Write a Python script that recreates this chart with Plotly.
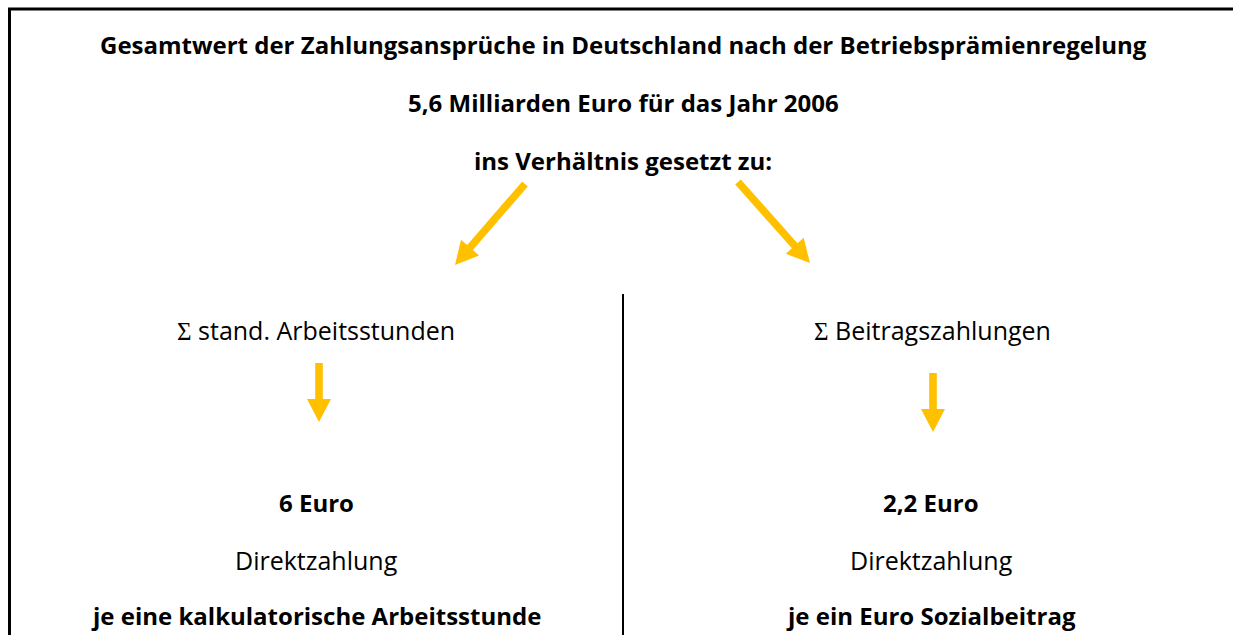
import math
import plotly.graph_objects as go

# ---- content ----
header_lines = [
    "Gesamtwert der Zahlungsansprüche in Deutschland nach der Betriebsprämienregelung",
    "5,6 Milliarden Euro für das Jahr 2006",
    "ins Verhältnis gesetzt zu:",
]
header_y = [44, 102, 160]

col_x = [316, 931]
col_sum_labels = ["stand. Arbeitsstunden", "Beitragszahlungen"]
col_values = ["6 Euro", "2,2 Euro"]
col_mid = ["Direktzahlung", "Direktzahlung"]
col_bottom = ["je eine kalkulatorische Arbeitsstunde", "je ein Euro Sozialbeitrag"]
row_y = {"sum": 330, "value": 502, "mid": 560, "bottom": 615}

# arrows: (start_x, start_y, tip_x, tip_y)
arrows = [
    (525, 184, 455, 265),
    (738, 182, 810, 263),
    (319, 363, 319, 422),
    (933, 373, 933, 432),
]
ARROW_COLOR = "#FFC000"
W, H = 1233, 635
FONT = "Open Sans"
BOLD_SIZE = 24
NORM_SIZE = 25


def arrow_path(x0, y0, x1, y1, shaft=7.5, head_len=23, head_half=12):
    dx, dy = x1 - x0, y1 - y0
    L = math.hypot(dx, dy)
    ux, uy = dx / L, dy / L
    px, py = -uy, ux
    bx, by = x1 - ux * head_len, y1 - uy * head_len
    s = shaft / 2
    pts = [
        (x0 + px * s, y0 + py * s),
        (bx + px * s, by + py * s),
        (bx + px * head_half, by + py * head_half),
        (x1, y1),
        (bx - px * head_half, by - py * head_half),
        (bx - px * s, by - py * s),
        (x0 - px * s, y0 - py * s),
    ]
    return "M " + " L ".join(f"{x:.1f},{y:.1f}" for x, y in pts) + " Z"


fig = go.Figure()
fig.add_trace(go.Scatter(x=[0, W], y=[0, H], mode="markers",
                         marker=dict(opacity=0), hoverinfo="skip", showlegend=False))

shapes = []
# border (top and left)
shapes.append(dict(type="line", x0=8, x1=W + 5, y0=9, y1=9, xref="x", yref="y",
                   line=dict(color="black", width=3)))
shapes.append(dict(type="line", x0=9.5, x1=9.5, y0=8, y1=H + 5, xref="x", yref="y",
                   line=dict(color="black", width=3)))
# divider
shapes.append(dict(type="line", x0=623, x1=623, y0=294, y1=H + 5, xref="x", yref="y",
                   line=dict(color="black", width=2)))
for a in arrows:
    shapes.append(dict(type="path", path=arrow_path(*a), xref="x", yref="y",
                       fillcolor=ARROW_COLOR, line=dict(width=0)))

annotations = []


def txt(x, y, s, bold=False, size=NORM_SIZE):
    annotations.append(dict(x=x, y=y, xref="x", yref="y", showarrow=False,
                            text=f"<b>{s}</b>" if bold else s,
                            xanchor="center", yanchor="middle",
                            font=dict(family=FONT, size=size, color="black")))


for line, y in zip(header_lines, header_y):
    txt(623, y, line, bold=True, size=BOLD_SIZE)

SIGMA = '<span style="font-family:Liberation Serif">Σ</span> '
for i, x in enumerate(col_x):
    txt(x + (0 if i == 0 else 1), row_y["sum"], SIGMA + col_sum_labels[i])
    txt(x, row_y["value"], col_values[i], bold=True, size=BOLD_SIZE)
    txt(x, row_y["mid"], col_mid[i])
    txt(x, row_y["bottom"], col_bottom[i], bold=True, size=BOLD_SIZE)

fig.update_layout(
    width=W, height=H,
    margin=dict(l=0, r=0, t=0, b=0),
    paper_bgcolor="white", plot_bgcolor="white",
    xaxis=dict(range=[0, W], visible=False, fixedrange=True),
    yaxis=dict(range=[H, 0], visible=False, fixedrange=True),
    shapes=shapes, annotations=annotations,
    showlegend=False,
)
fig.write_html(
    "out.html",
    config={"displayModeBar": False},
    post_script="document.body.style.margin='0';document.body.style.overflow='hidden';",
)
